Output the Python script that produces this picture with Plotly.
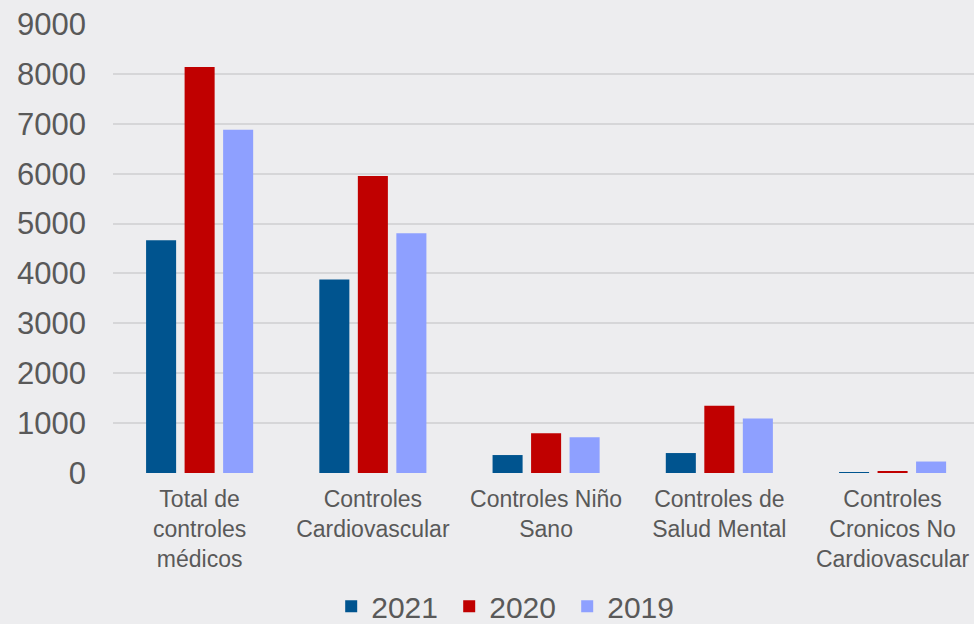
import plotly.graph_objects as go

categories = [
    "Total de<br>controles<br>médicos",
    "Controles<br>Cardiovascular",
    "Controles Niño<br>Sano",
    "Controles de<br>Salud Mental",
    "Controles<br>Cronicos No<br>Cardiovascular",
]
series_names = ["2021", "2020", "2019"]
values_2021 = [4667, 3880, 360, 400, 10]
values_2020 = [8138, 5954, 795, 1350, 30]
values_2019 = [6880, 4806, 715, 1090, 230]
colors = ["#00548F", "#C00000", "#8EA0FF"]
y_ticks = [0, 1000, 2000, 3000, 4000, 5000, 6000, 7000, 8000, 9000]

fig = go.Figure()
for name, vals, col in zip(series_names, [values_2021, values_2020, values_2019], colors):
    fig.add_trace(go.Bar(x=categories, y=vals, name=name, marker=dict(color=col, line=dict(width=0))))

font_family = "Arial, Liberation Sans, sans-serif"
fig.update_layout(
    width=974, height=624,
    margin=dict(l=113, r=0, t=24, b=151, autoexpand=False),
    paper_bgcolor="#EDEDEF", plot_bgcolor="#EDEDEF",
    barmode="group", bargap=0.333, bargroupgap=0.22,
    font=dict(family=font_family, color="#595959"),
    showlegend=True,
    legend=dict(orientation="h", x=0.459, xanchor="center", y=-0.297, yanchor="middle",
                font=dict(size=30, color="#595959"), bgcolor="rgba(0,0,0,0)", itemwidth=30,
                entrywidth=73, entrywidthmode="pixels"),
    xaxis=dict(range=[-0.5, 4.47], tickfont=dict(size=23, color="#595959"), showgrid=False,
               showline=False, zeroline=False, ticks="", ticklabelstandoff=10),
    yaxis=dict(range=[0, 9000], tickvals=y_ticks, tickfont=dict(size=31, color="#595959"),
               showgrid=True, gridcolor="#D6D6D8", gridwidth=1.5, zeroline=False, showline=False,
               ticks="", ticklabelstandoff=26),
)
fig.write_html("out.html", config={"displayModeBar": False},
               post_script="document.body.style.margin='0';document.body.style.background='#EDEDEF';")
